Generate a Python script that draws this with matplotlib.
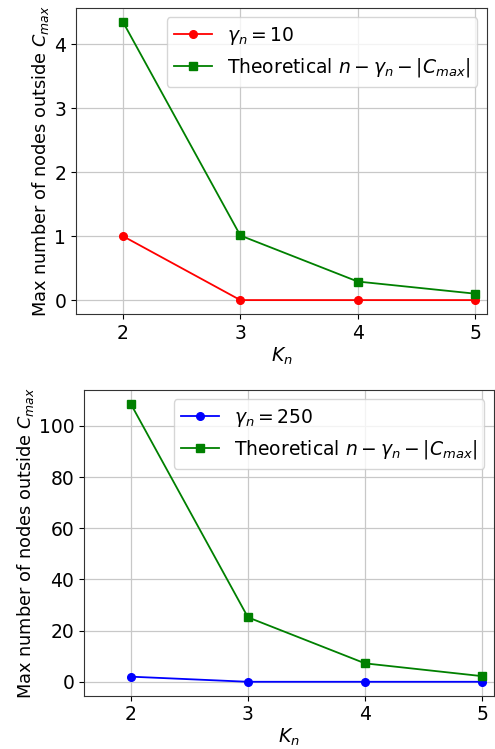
import matplotlib
matplotlib.use("Agg")
import matplotlib.pyplot as plt

k_values = [2, 3, 4, 5]
emp_top = [1, 0, 0, 0]
theo_top = [4.35, 1.01, 0.29, 0.10]
emp_bottom = [2, 0, 0, 0]
theo_bottom = [108.6, 25.2, 7.2, 2.2]
label_top = r"$\gamma_n = 10$"
label_bottom = r"$\gamma_n = 250$"
label_theo = r"Theoretical $n - \gamma_n - |C_{max}|$"
ylabel = r"Max number of nodes outside $C_{max}$"
xlabel = r"$K_n$"

fig = plt.figure(figsize=(4.95, 7.49), dpi=100)
ax1 = fig.add_axes([0.1535, 0.5808, 0.830, 0.4085])
ax2 = fig.add_axes([0.1697, 0.0712, 0.828, 0.408])

fs = 13.5
for ax, emp, theo, lab, col in [(ax1, emp_top, theo_top, label_top, "red"),
                                (ax2, emp_bottom, theo_bottom, label_bottom, "blue")]:
    ax.plot(k_values, emp, color=col, marker="o", markersize=5.5, linewidth=1.3, label=lab)
    ax.plot(k_values, theo, color="green", marker="s", markersize=5.5, linewidth=1.3, label=label_theo)
    ax.set_xlim(1.6, 5.1)
    ax.set_xticks(k_values)
    ax.grid(True, color="#c8c8c8", linewidth=0.9)
    ax.set_xlabel(xlabel, fontsize=fs, labelpad=2)
    ax.set_ylabel(ylabel, fontsize=12.8, labelpad=2)
    ax.tick_params(labelsize=fs)
    ax.legend(loc="upper right", fontsize=fs)
    for s in ax.spines.values():
        s.set_color("#333333")

ax1.set_yticks([0, 1, 2, 3, 4])
ax2.set_yticks([0, 20, 40, 60, 80, 100])

fig.savefig("out.png", dpi=100)
